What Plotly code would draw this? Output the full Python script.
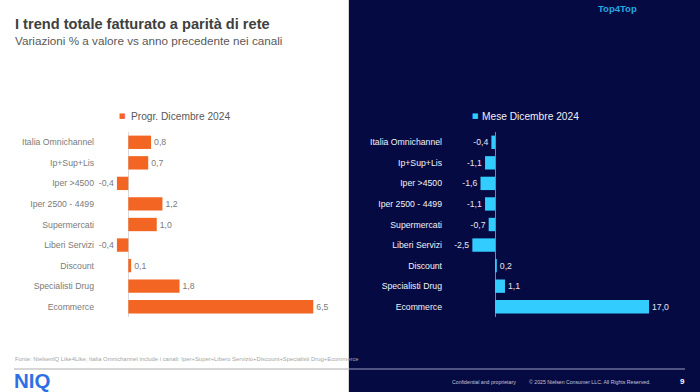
import plotly.graph_objects as go

# ---------------- data ----------------
categories = ["Italia Omnichannel", "Ip+Sup+Lis", "Iper >4500", "Iper 2500 - 4499",
              "Supermercati", "Liberi Servizi", "Discount", "Specialisti Drug", "Ecommerce"]
progr_name = "Progr. Dicembre 2024"
progr_values = [0.8, 0.7, -0.4, 1.2, 1.0, -0.4, 0.1, 1.8, 6.5]
mese_name = "Mese Dicembre 2024"
mese_values = [-0.4, -1.1, -1.6, -1.1, -0.7, -2.5, 0.2, 1.1, 17.0]

title_text = "I trend totale fatturato a parità di rete"
subtitle_text = "Variazioni % a valore vs anno precedente nei canali"
source_text = ("Fonte: NielsenIQ Like4Like; Italia Omnichannel include i canali: "
               "Iper+Super+Libero Servizio+Discount+Specialisti Drug+Ecommerce")

# ---------------- layout helpers ----------------
W, H = 700, 392
FONT = "Liberation Sans, Arial, sans-serif"
NAVY = "#060a42"
ORANGE = "#f26522"
CYAN = "#33ccff"


def px(x):
    return x / W


def py(y):
    return 1 - y / H


# left chart: zero at 128.3px, 28.46 px per unit
L0, L1, LZ, LS = 95, 340, 128.3, 28.46
# right chart: zero at 495px, 9.06 px per unit
R0, R1, RZ, RS = 443, 690, 495, 9.06
Y_DOM = [py(317), py(132)]

fig = go.Figure()

fig.add_trace(go.Bar(
    x=progr_values, y=categories, orientation="h", name=progr_name,
    marker=dict(color=ORANGE, line=dict(width=0)),
    texttemplate="%{x:.1f}", textposition="outside", cliponaxis=False,
    constraintext="none",
    textfont=dict(family=FONT, size=8.7, color="#7a7a7a"),
    xaxis="x", yaxis="y", showlegend=False,
))

fig.add_trace(go.Bar(
    x=mese_values, y=categories, orientation="h", name=mese_name,
    marker=dict(color=CYAN, line=dict(width=0)),
    texttemplate="%{x:.1f}", textposition="outside", cliponaxis=False,
    constraintext="none",
    textfont=dict(family=FONT, size=8.7, color="#e6e6ee"),
    xaxis="x2", yaxis="y2", showlegend=False,
))

axis_common = dict(showgrid=False, showline=False, ticks="", fixedrange=True)

fig.update_layout(
    width=W, height=H, margin=dict(l=0, r=0, t=0, b=0),
    template="none", paper_bgcolor="white", plot_bgcolor="rgba(0,0,0,0)",
    separators=",.", bargap=0.35, showlegend=False,
    font=dict(family=FONT),
    xaxis=dict(domain=[px(L0), px(L1)],
               range=[(L0 - LZ) / LS, (L1 - LZ) / LS],
               showticklabels=False, zeroline=True, zerolinecolor="#d9d9d9",
               zerolinewidth=1, anchor="y", **axis_common),
    yaxis=dict(domain=Y_DOM, type="category", categoryorder="array",
               categoryarray=categories, range=[len(categories) - 0.5, -0.5],
               anchor="x", zeroline=False,
               tickfont=dict(family=FONT, size=8.7, color="#7a7a7a"),
               **axis_common),
    xaxis2=dict(domain=[px(R0), px(R1)],
                range=[(R0 - RZ) / RS, (R1 - RZ) / RS],
                showticklabels=False, zeroline=True, zerolinecolor="#7d81a6",
                zerolinewidth=1, anchor="y2", **axis_common),
    yaxis2=dict(domain=Y_DOM, type="category", categoryorder="array",
                categoryarray=categories, range=[len(categories) - 0.5, -0.5],
                anchor="x2", zeroline=False,
                tickfont=dict(family=FONT, size=8.7, color="#f2f2f6"),
                **axis_common),
)

shapes = [
    # dark right panel
    dict(type="rect", xref="paper", yref="paper", x0=px(349), x1=1, y0=0, y1=1,
         fillcolor=NAVY, line=dict(width=0), layer="below"),
    # thin separator at left panel edge
    dict(type="line", xref="paper", yref="paper", x0=px(348.5), x1=px(348.5), y0=0, y1=1,
         line=dict(color="#d6d6d6", width=1), layer="below"),
    # footer rules
    dict(type="line", xref="paper", yref="paper", x0=px(14), x1=px(349), y0=py(369), y1=py(369),
         line=dict(color="#c8c8c8", width=1.5)),
    dict(type="line", xref="paper", yref="paper", x0=px(349), x1=px(685), y0=py(369), y1=py(369),
         line=dict(color="#6b6e99", width=1.5)),
]

annotations = [
    dict(text="<b>" + title_text + "</b>", x=px(13), y=py(24), xanchor="left", yanchor="middle",
         font=dict(family=FONT, size=14.6, color="#404040")),
    dict(text=subtitle_text, x=px(13), y=py(40), xanchor="left", yanchor="middle",
         font=dict(family=FONT, size=11.7, color="#595959")),
    dict(text="<b>Top4Top</b>", x=px(617), y=py(8), xanchor="center", yanchor="middle",
         font=dict(family=FONT, size=9.5, color="#25a8e0")),
    # legends
    dict(text="■", x=px(128), y=py(116), xanchor="right", yanchor="middle",
         font=dict(family="DejaVu Sans", size=7, color=ORANGE)),
    dict(text=progr_name, x=px(129), y=py(116), xanchor="left", yanchor="middle",
         font=dict(family=FONT, size=10.2, color="#595959")),
    dict(text="■", x=px(481), y=py(116), xanchor="right", yanchor="middle",
         font=dict(family="DejaVu Sans", size=7, color=CYAN)),
    dict(text=mese_name, x=px(480), y=py(116), xanchor="left", yanchor="middle",
         font=dict(family=FONT, size=10.2, color="#f0f0f4")),
    # footer
    dict(text=source_text, x=px(13), y=py(359), xanchor="left", yanchor="middle",
         font=dict(family=FONT, size=5.9, color="#a6a6a6")),
    dict(text="<b>NIQ</b>", x=px(12), y=py(380), xanchor="left", yanchor="middle",
         font=dict(family=FONT, size=20.5, color="#2f6fe4")),
    dict(text="Confidential and proprietary", x=px(450), y=py(382), xanchor="left", yanchor="middle",
         font=dict(family=FONT, size=5.2, color="#c3c5d8")),
    dict(text="© 2025 Nielsen Consumer LLC. All Rights Reserved.", x=px(527), y=py(382),
         xanchor="left", yanchor="middle", font=dict(family=FONT, size=5.2, color="#c3c5d8")),
    dict(text="<b>9</b>", x=px(682), y=py(381), xanchor="center", yanchor="middle",
         font=dict(family=FONT, size=8, color="#ffffff")),
]
for a in annotations:
    a.update(xref="paper", yref="paper", showarrow=False)

fig.update_layout(shapes=shapes, annotations=annotations)

fig.write_html(
    "out.html",
    config={"displayModeBar": False, "staticPlot": True},
    post_script="document.body.style.margin='0';document.body.style.overflow='hidden';",
)
